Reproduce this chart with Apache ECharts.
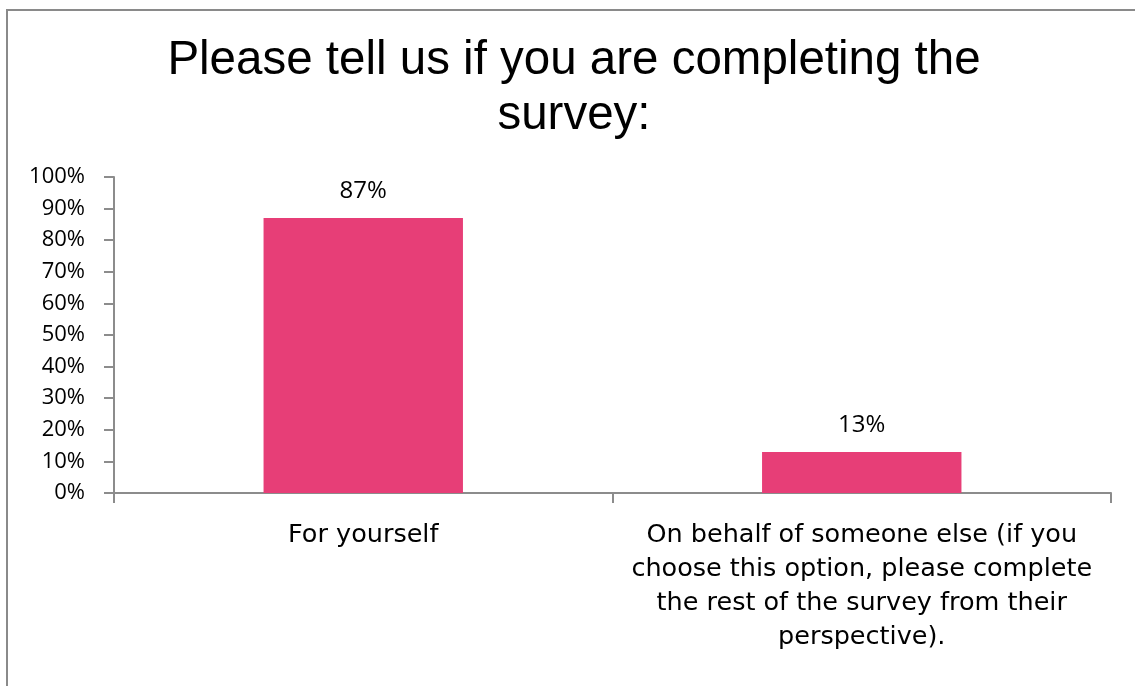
<!DOCTYPE html>
<html>
<head>
<meta charset="utf-8">
<script src="https://cdn.jsdelivr.net/npm/echarts@6/dist/echarts.min.js"></script>
<style>
  html, body { margin: 0; padding: 0; background: #ffffff; }
  #chart { width: 1135px; height: 686px; }
</style>
</head>
<body>
<div id="chart"></div>
<script>
// Survey answers: who the respondent is completing the survey for
const categories = [
  'For yourself',
  'On behalf of someone else (if you\nchoose this option, please complete\nthe rest of the survey from their\nperspective).'
];
const shares = [87, 13];
const yTicks = { min: 0, max: 100, step: 10 };
const titleText = 'Please tell us if you are completing the\nsurvey:';

const axisGrey = '#8c8c8c';
const barPink = '#e73e77';

const chart = echarts.init(document.getElementById('chart'), null, { renderer: 'canvas' });

chart.setOption({
  animation: false,
  backgroundColor: '#ffffff',
  title: {
    text: titleText,
    left: 569,
    textAlign: 'center',
    top: 28,
    textStyle: {
      fontFamily: '"Liberation Sans", Arial, sans-serif',
      fontSize: 47.5,
      fontWeight: 'normal',
      color: '#000000',
      lineHeight: 55,
      align: 'center'
    }
  },
  graphic: [{
    type: 'rect',
    silent: true,
    shape: { x: 7, y: 10, width: 1400, height: 1000 },
    style: { fill: 'none', stroke: '#8a8a8a', lineWidth: 2 }
  }],
  grid: { left: 114, right: 24, top: 177, bottom: 193, containLabel: false },
  xAxis: {
    type: 'category',
    data: categories,
    boundaryGap: true,
    axisLine: { show: true, lineStyle: { color: axisGrey, width: 2 } },
    axisTick: { show: true, alignWithLabel: false, length: 10, lineStyle: { color: axisGrey, width: 2 } },
    axisLabel: {
      interval: 0,
      margin: 25,
      fontFamily: '"DejaVu Sans", Verdana, sans-serif',
      fontSize: 25.5,
      lineHeight: 34,
      color: '#000000',
      align: 'center'
    }
  },
  yAxis: {
    type: 'value',
    min: yTicks.min,
    max: yTicks.max,
    interval: yTicks.step,
    splitLine: { show: false },
    axisLine: { show: true, lineStyle: { color: axisGrey, width: 2 } },
    axisTick: { show: true, length: 10, lineStyle: { color: axisGrey, width: 2 } },
    axisLabel: {
      margin: 29,
      formatter: '{value}%',
      fontFamily: '"Open Sans", sans-serif',
      fontSize: 22,
      color: '#000000'
    }
  },
  series: [{
    type: 'bar',
    data: shares,
    barWidth: '40%',
    itemStyle: { color: barPink },
    label: {
      show: true,
      position: 'top',
      distance: 15,
      formatter: '{c}%',
      fontFamily: '"Open Sans", sans-serif',
      fontSize: 24,
      color: '#000000'
    }
  }]
});
</script>
</body>
</html>
